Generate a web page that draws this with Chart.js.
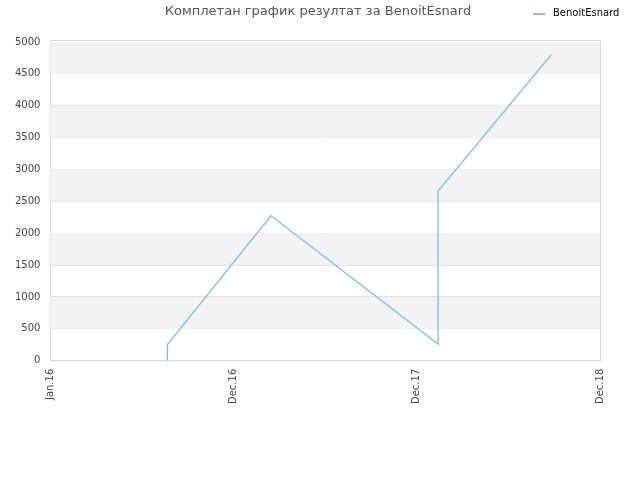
<!DOCTYPE html>
<html>
<head>
<meta charset="utf-8">
<script src="https://cdn.jsdelivr.net/npm/chart.js@4"></script>
<style>
html,body{margin:0;padding:0;background:#fff;}
#wrap{width:640px;height:480px;position:relative;}
</style>
</head>
<body>
<div id="wrap"><canvas id="c" width="640" height="480"></canvas></div>
<script>
const chartTitle = 'Комплетан график резултат за BenoitEsnard';
const seriesName = 'BenoitEsnard';
const xTickLabels = ['Jan.16', 'Dec.16', 'Dec.17', 'Dec.18'];
const xPositions = [0.638, 0.638, 1.204, 2.116, 2.116, 2.733];
const scores = [0, 250, 2275, 262, 2662, 4796];

const lineColor = '#88bdf5';

const decorPlugin = {
  id: 'decor',
  beforeDatasetsDraw(chart) {
    const y = chart.scales.y, a = chart.chartArea, ctx = chart.ctx;
    ctx.save();
    ctx.fillStyle = '#f3f3f3';
    const t = y.ticks;
    for (let i = 0; i < t.length - 1; i++) {
      const top = y.getPixelForValue(t[i + 1].value);
      const bot = y.getPixelForValue(t[i].value);
      if ((t.length - 2 - i) % 2 === 0) ctx.fillRect(a.left, top, a.right - a.left, bot - top);
    }
    ctx.restore();
  },
  afterDatasetsDraw(chart) {
    const a = chart.chartArea, ctx = chart.ctx;
    ctx.save();
    ctx.strokeStyle = '#d8d8d8';
    ctx.lineWidth = 1;
    ctx.beginPath();
    ctx.moveTo(a.right + 0.5, a.top - 1.5);
    ctx.lineTo(a.right + 0.5, a.bottom);
    ctx.moveTo(a.left, a.top - 1.5);
    ctx.lineTo(a.right, a.top - 1.5);
    ctx.stroke();
    ctx.restore();
  },
  afterDraw(chart) {
    const ctx = chart.ctx;
    ctx.save();
    ctx.font = '13px "DejaVu Sans"';
    ctx.fillStyle = '#555';
    ctx.textAlign = 'center';
    ctx.textBaseline = 'middle';
    ctx.fillText(chartTitle, 318, 12);
    // legend
    ctx.strokeStyle = lineColor;
    ctx.lineWidth = 2;
    ctx.beginPath();
    ctx.moveTo(533, 14);
    ctx.lineTo(545, 14);
    ctx.stroke();
    ctx.font = '10px "DejaVu Sans"';
    ctx.fillStyle = '#000';
    ctx.textAlign = 'left';
    ctx.fillText(seriesName, 553, 13);
    ctx.restore();
  }
};

new Chart(document.getElementById('c'), {
  type: 'line',
  data: {
    datasets: [{
      label: seriesName,
      data: xPositions.map((x, i) => ({ x: x, y: scores[i] })),
      borderColor: lineColor,
      backgroundColor: lineColor,
      borderWidth: 1.4,
      pointRadius: 0,
      tension: 0,
      fill: false
    }]
  },
  options: {
    responsive: false,
    animation: false,
    layout: { padding: { left: 5, right: 40, top: 42, bottom: 68 } },
    plugins: {
      title: { display: false },
      tooltip: { enabled: false },
      legend: { display: false }
    },
    scales: {
      x: {
        type: 'linear',
        min: 0, max: 3,
        afterBuildTicks(scale) { scale.ticks = xTickLabels.map((l, i) => ({ value: i })); },
        ticks: {
          callback: (v, i) => xTickLabels[i],
          maxRotation: 90, minRotation: 90,
          font: { family: 'DejaVu Sans', size: 10 },
          color: '#444',
          padding: 8
        },
        grid: { display: false, drawTicks: false },
        border: { display: true, color: '#d8d8d8' }
      },
      y: {
        min: 0, max: 5000,
        ticks: {
          stepSize: 500,
          callback: v => String(v),
          font: { family: 'DejaVu Sans', size: 10 },
          color: '#444',
          padding: 10
        },
        grid: { color: '#e0e0e0', drawTicks: false },
        border: { display: true, color: '#d8d8d8' }
      }
    }
  },
  plugins: [decorPlugin]
});
</script>
</body>
</html>
